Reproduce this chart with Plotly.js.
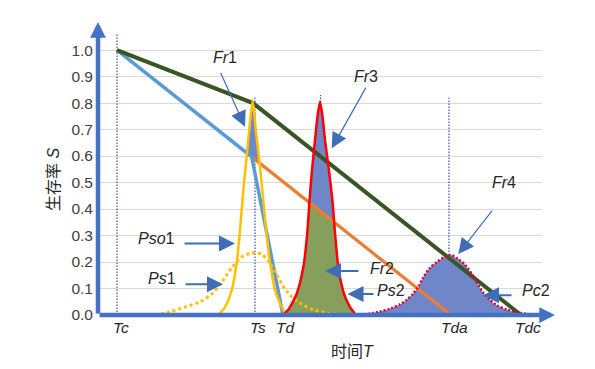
<!DOCTYPE html>
<html>
<head>
<meta charset="utf-8">
<script src="https://cdn.plot.ly/plotly-3.0.1.min.js"></script>
<style>html,body{margin:0;padding:0;background:#fff;}#chart{width:595px;height:369px;}</style>
</head>
<body>
<div id="chart"></div>
<script>
// ---- data (T in arbitrary time units, S = survival rate) ----
const yTickVals = [0, 0.1, 0.2, 0.3, 0.4, 0.5, 0.6, 0.7, 0.8, 0.9, 1.0];
const yTickText = ['0.0','0.1','0.2','0.3','0.4','0.5','0.6','0.7','0.8','0.9','1.0'];

const timeLabels = ['Tc', 'Ts', 'Td', 'Tda', 'Tdc'];
const timeLabelT = [121, 257.5, 285.5, 454.5, 528];

const guideT   = [117, 255, 320.5, 449];
const guideTop = [1.064, 0.82, 0.83, 0.82];

const greenT  = [117, 253, 521];
const greenS  = [1.0, 0.80, 0];
const blueT   = [117, 251.7, 283];
const blueS   = [1.0, 0.597, 0];
const orangeT = [251.7, 451];
const orangeS = [0.597, 0];

const pso1T = [218.3, 225, 231.7, 236.7, 240, 243.3, 246.7, 249.5, 252.7, 256, 260, 263.3, 266.7, 270, 275, 281.7, 286];
const pso1S = [0, 0.03, 0.094, 0.196, 0.32, 0.47, 0.60, 0.71, 0.81, 0.69, 0.56, 0.43, 0.30, 0.2, 0.094, 0.03, 0];

const ps1T = [155, 170, 185, 200, 212, 222, 232, 242, 250, 256, 262, 268, 275, 283, 290, 300, 313, 328, 343];
const ps1S = [0, 0.012, 0.03, 0.05, 0.08, 0.125, 0.18, 0.22, 0.233, 0.235, 0.228, 0.205, 0.165, 0.11, 0.075, 0.045, 0.02, 0.007, 0];

const ps2T = [282.7, 288.3, 296.7, 303.3, 307.3, 309.3, 311.7, 315, 317.5, 320, 322.5, 325, 329.3, 332.7, 335, 338.3, 344, 350, 356];
const ps2S = [0, 0.02, 0.08, 0.18, 0.31, 0.42, 0.535, 0.66, 0.75, 0.805, 0.75, 0.66, 0.535, 0.42, 0.31, 0.18, 0.08, 0.03, 0];

const pc2T = [356, 370, 380, 390, 400, 407, 413, 418, 423, 430, 437, 444, 451, 458, 465, 473, 483, 490, 497, 507, 517, 527, 540];
const pc2S = [0, 0.006, 0.013, 0.024, 0.04, 0.058, 0.08, 0.105, 0.14, 0.178, 0.2, 0.218, 0.226, 0.212, 0.19, 0.148, 0.085, 0.057, 0.036, 0.02, 0.01, 0.004, 0];

const fr1T = [246.5, 249.5, 252.7, 256, 258, 259.7, 251.7];
const fr1S = [0.61, 0.71, 0.81, 0.69, 0.62, 0.57, 0.597];
const fr2T = [282.7, 288.3, 296.7, 303.3, 307.3, 309.3, 334, 335, 338.3, 344, 350, 356];
const fr2S = [0, 0.02, 0.08, 0.18, 0.31, 0.424, 0.353, 0.31, 0.18, 0.08, 0.03, 0];
const fr3T = [309.3, 311.7, 315, 317.5, 320, 322.5, 325, 329.3, 332.7, 334];
const fr3S = [0.424, 0.535, 0.66, 0.75, 0.805, 0.75, 0.66, 0.535, 0.42, 0.353];

// callout labels: text, label position, arrow tail, arrow tip
const callTexts = ['<i>Fr</i>1', '<i>Fr</i>3', '<i>Fr</i>4', '<i>Fr</i>2', '<i>Ps</i>2', '<i>Pc</i>2', '<i>Pso</i>1', '<i>Ps</i>1'];
const callLabT  = [225, 366, 504, 381.5, 390.5, 536, 156.5, 162];
const callLabS  = [0.972, 0.902, 0.50, 0.177, 0.091, 0.094, 0.29, 0.136];
const callTailT = [220, 366.7, 493.3, 360, 375, 513, 183, 184];
const callTailS = [0.919, 0.864, 0.40, 0.166, 0.079, 0.075, 0.27, 0.116];
const callTipT  = [245, 331.7, 458.3, 325, 347.5, 483, 235, 223];
const callTipS  = [0.711, 0.629, 0.23, 0.166, 0.079, 0.075, 0.27, 0.116];
const callThin  = [true, true, true, false, false, false, false, false];

// ---- styles ----
const FONT = 'Liberation Sans, Arial, Noto Sans CJK SC, sans-serif';
const AXIS_BLUE = '#4472C4';
const FILL_BLUE = '#6F86C9';
const FILL_GREEN = '#879F5C';

const traces = [];
guideT.forEach((t, i) => {
  traces.push({x: [t, t], y: [0, guideTop[i]], mode: 'lines', hoverinfo: 'skip',
    line: {color: '#3553A8', width: 1.2, dash: '1.5px,1.5px'}});
});
traces.push({x: pc2T, y: pc2S, mode: 'lines', fill: 'tozeroy', fillcolor: FILL_BLUE,
  line: {width: 0, shape: 'spline', smoothing: 0.8}, hoverinfo: 'skip'});
traces.push({x: fr2T, y: fr2S, mode: 'lines', fill: 'toself', fillcolor: FILL_GREEN,
  line: {width: 0}, hoverinfo: 'skip'});
traces.push({x: fr3T, y: fr3S, mode: 'lines', fill: 'toself', fillcolor: FILL_BLUE,
  line: {width: 0}, hoverinfo: 'skip'});
traces.push({x: fr1T, y: fr1S, mode: 'lines', fill: 'toself', fillcolor: FILL_BLUE,
  line: {width: 0}, hoverinfo: 'skip'});
traces.push({x: orangeT, y: orangeS, mode: 'lines', line: {color: '#ED7D31', width: 3.2}, hoverinfo: 'skip'});
traces.push({x: blueT, y: blueS, mode: 'lines', line: {color: '#5B9BD5', width: 3.5}, hoverinfo: 'skip'});
traces.push({x: greenT, y: greenS, mode: 'lines', line: {color: '#375623', width: 4}, hoverinfo: 'skip'});
traces.push({x: ps1T, y: ps1S, mode: 'lines', line: {color: '#FFC000', width: 3, dash: '3px,3px', shape: 'spline', smoothing: 0.8}, hoverinfo: 'skip'});
traces.push({x: pso1T, y: pso1S, mode: 'lines', line: {color: '#FFC000', width: 2.5, shape: 'spline', smoothing: 0.6}, hoverinfo: 'skip'});
traces.push({x: ps2T, y: ps2S, mode: 'lines', line: {color: '#FF0000', width: 2.5, shape: 'spline', smoothing: 0.6}, hoverinfo: 'skip'});
traces.push({x: pc2T, y: pc2S, mode: 'lines', line: {color: '#E0002A', width: 2.5, dash: '2px,2px', shape: 'spline', smoothing: 0.8}, hoverinfo: 'skip'});

const annotations = [];
annotations.push({xref: 'paper', yref: 'paper', x: 0, y: 1, ax: 0, ay: 293,
  text: '', showarrow: true, arrowhead: 2, arrowsize: 0.7, arrowwidth: 4.5, arrowcolor: AXIS_BLUE, standoff: 0});
annotations.push({xref: 'paper', yref: 'paper', x: (555 - 98) / 444, y: 0, ax: -457, ay: 0,
  text: '', showarrow: true, arrowhead: 2, arrowsize: 0.7, arrowwidth: 4.5, arrowcolor: AXIS_BLUE, standoff: 0});
callTexts.forEach((txt, i) => {
  annotations.push({xref: 'x', yref: 'y', x: callTipT[i], y: callTipS[i], axref: 'x', ayref: 'y',
    ax: callTailT[i], ay: callTailS[i], text: '', showarrow: true, arrowhead: 2,
    arrowsize: callThin[i] ? 2.6 : 1.6, arrowwidth: callThin[i] ? 1.2 : 2, arrowcolor: '#3F6DB8'});
  annotations.push({xref: 'x', yref: 'y', x: callLabT[i], y: callLabS[i], text: txt, showarrow: false,
    xanchor: 'center', yanchor: 'middle', font: {family: FONT, size: 16, color: '#262626'}});
});
timeLabels.forEach((t, i) => {
  annotations.push({xref: 'x', yref: 'paper', x: timeLabelT[i], y: -0.0427, text: '<i>' + t + '</i>',
    xanchor: 'center', yanchor: 'middle', showarrow: false, font: {family: FONT, size: 15.5, color: '#262626'}});
});
annotations.push({xref: 'paper', yref: 'paper', x: (352 - 98) / 444, y: -0.126, text: '时间<i>T</i>',
  xanchor: 'center', yanchor: 'middle', showarrow: false, font: {family: FONT, size: 16, color: '#262626'}});
annotations.push({xref: 'paper', yref: 'paper', x: (53 - 98) / 444, y: (315 - 180) / 293, text: '生存率 <i>S</i>',
  xanchor: 'center', yanchor: 'middle', textangle: -90, showarrow: false, font: {family: FONT, size: 16, color: '#262626'}});

const layout = {
  width: 595, height: 369,
  margin: {l: 98, r: 53, t: 22, b: 54, pad: 0},
  paper_bgcolor: '#ffffff', plot_bgcolor: '#ffffff',
  showlegend: false,
  font: {family: FONT},
  xaxis: {range: [98, 542], showgrid: false, zeroline: false, showline: false, showticklabels: false, ticks: '', fixedrange: true},
  yaxis: {range: [0, 1.106], tickvals: yTickVals, ticktext: yTickText, showgrid: true, gridcolor: '#D9D9D9', gridwidth: 1,
    zeroline: false, showline: false, ticks: '', ticklabelstandoff: 4,
    tickfont: {family: FONT, size: 15.5, color: '#404040'}, fixedrange: true},
  annotations: annotations
};

Plotly.newPlot('chart', traces, layout, {displayModeBar: false, staticPlot: true});
</script>
</body>
</html>
